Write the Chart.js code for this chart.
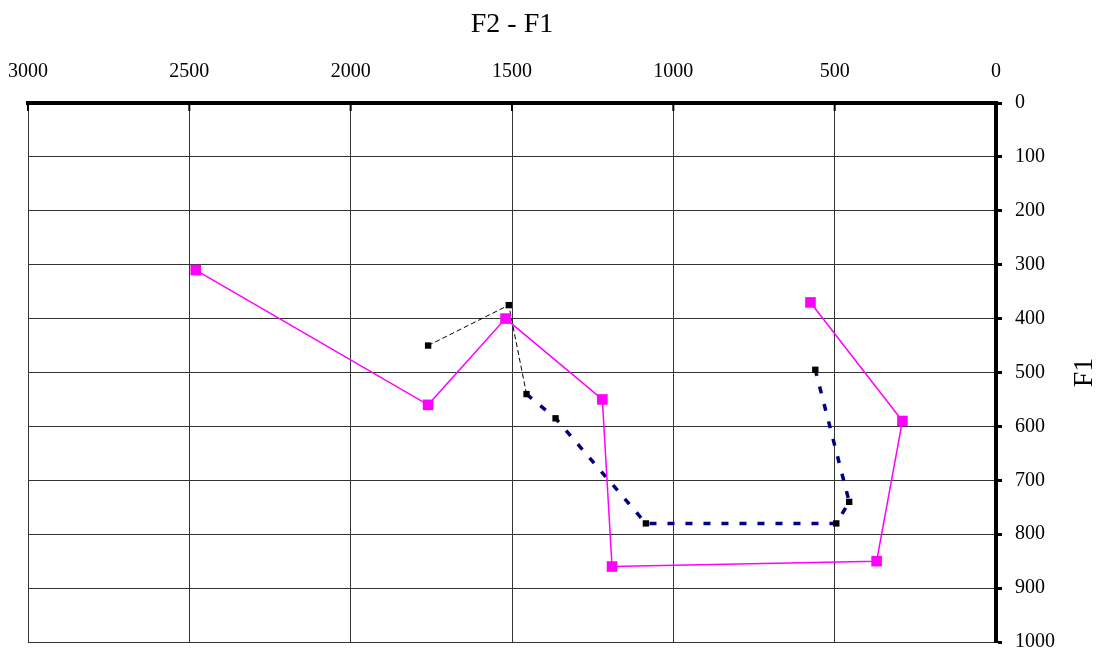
<!DOCTYPE html>
<html>
<head>
<meta charset="utf-8">
<script src="https://cdn.jsdelivr.net/npm/chart.js@4"></script>
<style>
  html, body { margin: 0; padding: 0; background: #fff; }
  #wrap { width: 1104px; height: 655px; }
</style>
</head>
<body>
<div id="wrap"><canvas id="chart"></canvas></div>
<script>
// vowel chart data (F2 on x, F1 on y)
const magentaF2 = [2480, 1760, 1520, 1220, 1190, 370, 290, 575];
const magentaF1 = [310, 560, 400, 550, 860, 850, 590, 370];
const darkF2 = [1760, 1510, 1455, 1365, 1085, 495, 455, 560];
const darkF1 = [450, 375, 540, 585, 780, 780, 740, 495];

const xTitle = "F2 - F1";
const yTitle = "F1";

const toPoints = (xs, ys) => xs.map((x, i) => ({ x: x, y: ys[i] }));

Chart.defaults.font.family = "'Liberation Serif', 'DejaVu Serif', serif";
Chart.defaults.color = "#000";

//Inside tick marks on top axis + rotated y title
const extras = {
  id: "extras",
  afterDraw(chart) {
    const ctx = chart.ctx;
    const xs = chart.scales.x;
    const area = chart.chartArea;
    ctx.save();
    ctx.strokeStyle = "#000";
    ctx.lineWidth = 2;
    xs.ticks.forEach(function (t) {
      const px = xs.getPixelForValue(t.value);
      ctx.beginPath();
      ctx.moveTo(px, area.top);
      ctx.lineTo(px, area.top + 8);
      ctx.stroke();
    });
    ctx.translate(1085, (area.top + area.bottom) / 2);
    ctx.rotate(-Math.PI / 2);
    ctx.font = "28px 'Liberation Serif', serif";
    ctx.fillStyle = "#000";
    ctx.textAlign = "center";
    ctx.textBaseline = "middle";
    ctx.fillText(yTitle, 0, 0);
    ctx.restore();
  },
};

new Chart(document.getElementById("chart"), {
  type: "scatter",
  data: {
    datasets: [
      {
        data: toPoints(magentaF2, magentaF1),
        showLine: true,
        borderColor: "#ff00ff",
        backgroundColor: "#ff00ff",
        borderWidth: 1.5,
        pointStyle: "rect",
        pointRadius: 7.5,
        pointBorderWidth: 0,
      },
      {
        data: toPoints(darkF2, darkF1),
        showLine: true,
        borderColor: "#000",
        backgroundColor: "#000",
        borderWidth: 1,
        borderDash: [5, 3],
        pointStyle: "rect",
        pointRadius: 4.5,
        pointBorderWidth: 0,
        segment: {
          borderColor: (ctx) => (ctx.p0DataIndex >= 2 ? "#000080" : "#000"),
          borderWidth: (ctx) => (ctx.p0DataIndex >= 2 ? 3.5 : 1),
          borderDash: (ctx) => (ctx.p0DataIndex >= 2 ? [7, 11] : [5, 3]),
        },
      },
    ],
  },
  options: {
    responsive: true,
    maintainAspectRatio: false,
    animation: false,
    layout: { padding: { left: 28, right: 0, top: 0, bottom: 13 } },
    plugins: {
      legend: { display: false },
      tooltip: { enabled: false },
    },
    scales: {
      x: {
        type: "linear",
        position: "top",
        reverse: true,
        min: 0,
        max: 3000,
        ticks: {
          stepSize: 500,
          padding: 19,
          font: { size: 20 },
          maxRotation: 0,
          callback: (v) => String(v),
        },
        grid: { color: "#333", lineWidth: 1, drawTicks: false },
        border: { color: "#000", width: 4 },
        title: {
          display: true,
          text: xTitle,
          font: { size: 28 },
          padding: { top: 8, bottom: 0 },
        },
        afterFit(scale) {
          scale.height = 103;
          scale.paddingLeft = 0;
          scale.paddingRight = 0;
        },
      },
      y: {
        type: "linear",
        position: "right",
        reverse: true,
        min: 0,
        max: 1000,
        ticks: { stepSize: 100, padding: 13, font: { size: 20 }, callback: (v) => String(v) },
        grid: { color: "#333", lineWidth: 1, tickLength: 6, tickWidth: 3, tickColor: "#000" },
        border: { color: "#000", width: 4 },
        afterFit(scale) {
          scale.width = 108;
          scale.paddingTop = 0;
          scale.paddingBottom = 0;
        },
      },
    },
  },
  plugins: [extras],
});
</script>
</body>
</html>
